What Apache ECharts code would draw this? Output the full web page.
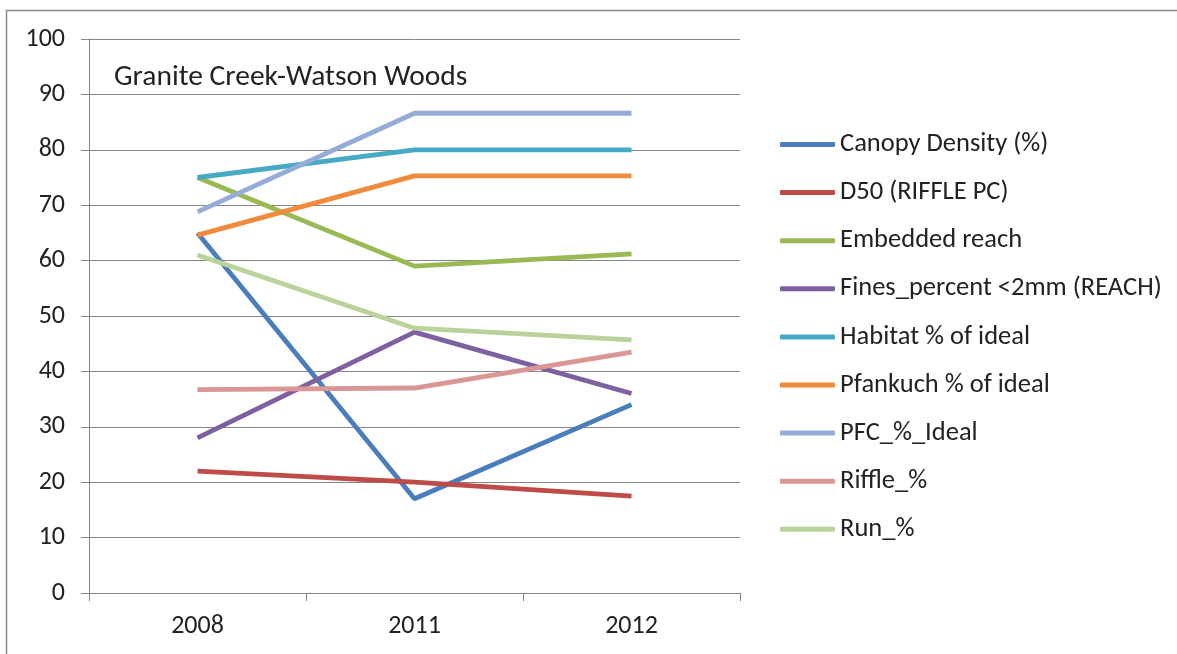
<!DOCTYPE html>
<html><head><meta charset="utf-8">
<script src="https://cdn.jsdelivr.net/npm/echarts@6/dist/echarts.min.js"></script>
<style>html,body{margin:0;padding:0;background:#fff}#c{width:1177px;height:654px}</style>
</head><body><div id="c"></div>
<script>
const categories = ['2008', '2011', '2012'];
const seriesNames = ['Canopy Density (%)', 'D50 (RIFFLE PC)', 'Embedded reach', 'Fines_percent <2mm (REACH)', 'Habitat % of ideal', 'Pfankuch % of ideal', 'PFC_%_Ideal', 'Riffle_%', 'Run_%'];
const canopy = [65, 17, 34];
const d50 = [22, 20, 17.5];
const embedded = [75, 59, 61.2];
const fines = [28, 47.1, 36];
const habitat = [75, 80, 80];
const pfankuch = [64.6, 75.3, 75.3];
const pfc = [68.8, 86.6, 86.6];
const riffle = [36.7, 37, 43.5];
const run = [61, 47.8, 45.7];
const colors = ['#4A7EBB', '#BE4B48', '#98B954', '#7D60A0', '#46AAC5', '#F08A3C', '#94ACD6', '#D99694', '#B9D39A'];
const dataSets = [canopy, d50, embedded, fines, habitat, pfankuch, pfc, riffle, run];

const chart = echarts.init(document.getElementById('c'));
const font = "Carlito, 'Open Sans', 'Noto Sans', sans-serif";
chart.setOption({
  animation: false,
  color: colors,
  grid: {left: 89, top: 39, width: 651, height: 554},
  graphic: [
    {type: 'rect', shape: {x: 6.5, y: 10.5, width: 1200, height: 700}, style: {fill: 'none', stroke: '#8a8a8a', lineWidth: 1.5}, z: -1},
    {type: 'text', left: 114, top: 63, style: {text: 'Granite Creek-Watson Woods', font: "29.5px " + font, fill: '#222'}}
  ],
  legend: {
    orient: 'vertical', left: 780, top: 131, padding: 0,
    itemWidth: 55, itemHeight: 5, itemGap: 21.1,
    icon: 'roundRect',
    textStyle: {fontFamily: font, fontSize: 26.5, color: '#222', lineHeight: 26},
    data: seriesNames
  },
  xAxis: {
    type: 'category', data: categories, boundaryGap: true,
    axisLine: {lineStyle: {color: '#868686', width: 1}},
    axisTick: {show: true, length: 8, lineStyle: {color: '#868686'}},
    axisLabel: {margin: 20, fontFamily: font, fontSize: 26, color: '#222'}
  },
  yAxis: {
    type: 'value', min: 0, max: 100, interval: 10,
    axisLine: {show: true, lineStyle: {color: '#868686', width: 1}},
    axisTick: {show: true, length: 8, lineStyle: {color: '#868686'}},
    splitLine: {lineStyle: {color: '#868686', width: 1}},
    axisLabel: {margin: 24, fontFamily: font, fontSize: 26, color: '#222'}
  },
  series: seriesNames.map((n, i) => ({
    name: n, type: 'line', data: dataSets[i], symbol: 'none',
    lineStyle: {width: 4.8, color: colors[i]}, itemStyle: {color: colors[i]}
  }))
});
</script></body></html>
